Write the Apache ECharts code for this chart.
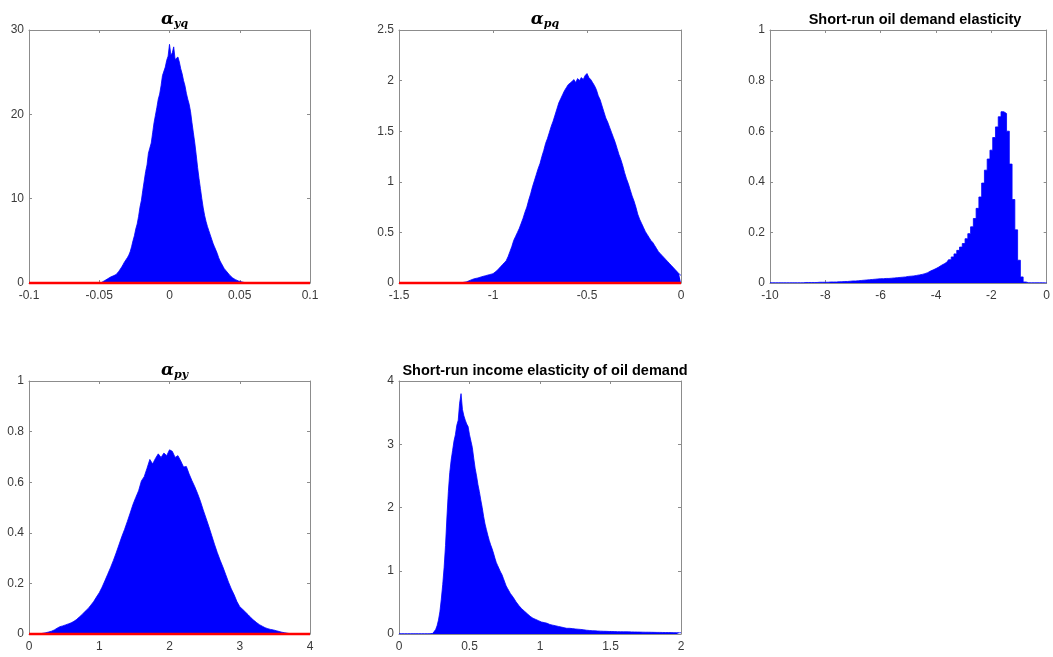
<!DOCTYPE html>
<html>
<head>
<meta charset="utf-8">
<script src="https://cdn.jsdelivr.net/npm/echarts@6/dist/echarts.min.js"></script>
<style>html,body{margin:0;padding:0;background:#fff;}#c{width:1053px;height:657px;}</style>
</head>
<body>
<div id="c"></div>
<script>
// ---- Data (density heights) ----
// Panel 1: alpha_yq, bins start -0.048, width 0.001
const ayqStart = -0.048, ayqWidth = 0.001;
const ayqDens = [0.1,0.2,0.3,0.4,0.5,0.6,0.7,0.75,0.85,0.9,1.0,1.2,1.4,1.6,1.9,2.2,2.5,2.7,3.0,3.3,3.7,4.3,5.0,5.6,6.4,7.0,7.9,9.0,9.8,11.0,12.1,13.2,14.0,15.4,16.0,16.6,17.8,19.0,19.9,20.8,21.8,22.4,23.4,24.6,24.7,25.6,26.4,26.9,28.3,27.0,27.3,28.0,26.5,26.4,26.8,26.2,25.4,24.8,24.0,23.4,22.5,21.8,21.2,20.3,19.0,17.8,16.6,15.2,13.7,12.4,11.2,10.0,8.9,8.0,7.3,6.7,6.2,5.7,5.2,4.7,4.3,3.9,3.5,3.0,2.6,2.3,2.0,1.7,1.5,1.3,1.1,0.9,0.75,0.6,0.5,0.4,0.3,0.25,0.2,0.15,0.1,0.07,0.05];
// Panel 2: alpha_pq, bins start -1.16, width 0.01
const apqStart = -1.16, apqWidth = 0.01;
const apqDens = [0.005,0.008,0.012,0.02,0.028,0.035,0.042,0.046,0.05,0.055,0.062,0.066,0.072,0.076,0.082,0.088,0.092,0.105,0.12,0.14,0.16,0.18,0.20,0.22,0.26,0.31,0.36,0.42,0.46,0.50,0.54,0.59,0.64,0.70,0.75,0.82,0.88,0.95,1.01,1.07,1.13,1.18,1.25,1.31,1.38,1.43,1.49,1.55,1.60,1.66,1.72,1.78,1.82,1.86,1.90,1.93,1.96,1.95,1.99,2.01,1.98,2.02,2.00,2.03,2.01,2.05,2.07,2.03,2.01,1.98,1.95,1.91,1.85,1.81,1.75,1.69,1.63,1.59,1.54,1.49,1.44,1.39,1.33,1.27,1.22,1.16,1.09,1.03,0.98,0.92,0.86,0.81,0.75,0.68,0.63,0.59,0.55,0.51,0.48,0.45,0.42,0.40,0.37,0.34,0.31,0.29,0.27,0.25,0.23,0.21,0.19,0.17,0.155,0.13,0.11,0.09,0.075];
// Panel 3: short-run oil demand elasticity, bins start -10, width 0.1
const srdStart = -10, srdWidth = 0.1;
const srdDens = [0.001,0.001,0.001,0.001,0.001,0.001,0.001,0.001,0.001,0.001,0.001,
  0.001,0.001,0.002,0.002,0.002,0.002,0.002,0.003,0.003,0.003,
  0.003,0.004,0.004,0.004,0.005,0.005,0.006,0.006,0.007,0.008,
  0.008,0.009,0.010,0.011,0.012,0.013,0.014,0.015,0.016,0.017,
  0.017,0.018,0.018,0.019,0.020,0.021,0.022,0.023,0.024,0.026,
  0.027,0.028,0.030,0.032,0.034,0.037,0.041,0.047,0.052,0.057,
  0.063,0.070,0.076,0.083,0.092,0.103,0.115,0.129,0.142,0.156,
  0.175,0.195,0.222,0.255,0.295,0.340,0.395,0.446,0.490,0.525,
  0.575,0.617,0.657,0.677,0.670,0.600,0.470,0.330,0.210,0.090,
  0.024,0.004,0.001,0.001,0.001,0.001,0.001,0.001,0.001,0.001];
// Panel 4: alpha_py, bins start 0.16, width 0.04
const apyStart = 0.16, apyWidth = 0.04;
const apyDens = [0.001,0.003,0.005,0.008,0.011,0.016,0.023,0.029,0.032,0.036,0.040,0.044,0.050,0.058,0.068,0.078,0.090,0.100,0.114,0.128,0.146,0.163,
  0.185,0.210,0.236,0.262,0.290,0.320,0.352,0.384,0.413,0.445,0.478,0.512,0.540,0.566,0.605,0.622,0.655,0.690,0.672,0.694,0.712,0.698,0.715,0.705,0.728,
  0.722,0.698,0.705,0.684,0.660,0.662,0.632,0.606,0.582,0.555,0.525,0.490,0.458,0.425,0.390,0.355,0.322,0.292,0.265,0.235,0.205,0.178,0.155,0.128,0.108,
  0.098,0.087,0.076,0.064,0.054,0.045,0.037,0.031,0.025,0.021,0.018,0.016,0.013,0.010,0.007,0.005,0.003,0.001];
// Panel 5: short-run income elasticity, bins start 0, width 0.01
const sriStart = 0, sriWidth = 0.01;
const sriDens = [0.005,0.005,0.005,0.005,0.005,0.005,0.005,0.005,0.005,0.005,0.005,0.005,0.005,0.005,0.005,0.005,0.005,0.005,0.005,0.005,0.005,0.005,0.005,0.006,
  0.01,0.03,0.07,0.13,0.22,0.35,0.55,0.78,1.05,1.40,1.85,2.25,2.55,2.75,2.90,3.05,3.15,3.30,3.38,3.65,3.80,3.55,3.45,3.38,3.32,3.28,3.15,3.05,2.95,2.78,2.62,2.50,2.36,2.25,2.12,2.00,1.86,1.74,1.65,1.56,1.48,1.41,1.35,1.28,1.20,1.13,1.08,1.03,0.98,0.94,0.88,0.82,0.76,0.72,0.68,0.64,0.61,0.58,0.55,0.51,0.48,0.45,0.42,0.40,0.38,0.36,0.33,0.32,0.30,0.28,0.27,0.25,0.24,0.23,0.22,0.21,0.20,
  0.19,0.19,0.18,0.17,0.17,0.16,0.15,0.15,0.14,0.14,
  0.13,0.13,0.12,0.12,0.11,0.11,0.10,0.10,0.09,0.09,
  0.09,0.085,0.085,0.08,0.08,0.078,0.076,0.074,0.072,0.07,
  0.066,0.063,0.06,0.058,0.056,0.054,0.052,0.05,0.05,0.048,
  0.047,0.046,0.045,0.044,0.043,0.042,0.042,0.041,0.04,0.04,
  0.04,0.039,0.038,0.038,0.037,0.037,0.036,0.036,0.035,0.035,
  0.035,0.034,0.034,0.033,0.033,0.032,0.032,0.031,0.031,0.03,
  0.03,0.03,0.029,0.029,0.028,0.028,0.028,0.027,0.027,0.026,
  0.026,0.026,0.025,0.025,0.025,0.024,0.024,0.024,0.023,0.023,
  0.023,0.022,0.022,0.022,0.021,0.021,0.021,0.02,0.02,0.02];
// Prior lines (red, at zero)
const ayqPrior = [[-0.1, 0], [0.1, 0]];
const apqPrior = [[-1.5, 0], [0, 0]];
const apyPrior = [[0, 0], [4, 0]];

// Axis ranges / ticks
const xRanges = [[-0.1, 0.1, 0.05], [-1.5, 0, 0.5], [-10, 0, 2], [0, 4, 1], [0, 2, 0.5]];
const yRanges = [[0, 30, 10], [0, 2.5, 0.5], [0, 1, 0.2], [0, 1, 0.2], [0, 4, 1]];
const titles = ['{a|α}{s|yq}', '{a|α}{s|pq}', 'Short-run oil demand elasticity', '{a|α}{s|py}', 'Short-run income elasticity of oil demand'];

const hists = [[ayqStart, ayqWidth, ayqDens], [apqStart, apqWidth, apqDens], [srdStart, srdWidth, srdDens], [apyStart, apyWidth, apyDens], [sriStart, sriWidth, sriDens]];
const priors = [ayqPrior, apqPrior, null, apyPrior, null];
const stepped = [false, false, true, false, false];

// ---- Layout ----
const grids = [
  {left: 29, top: 30, width: 281, height: 253},
  {left: 399, top: 30, width: 282, height: 253},
  {left: 770, top: 30, width: 280, height: 253},
  {left: 29, top: 381, width: 281, height: 253},
  {left: 399, top: 381, width: 282, height: 253}
];

const boxColor = '#8c8c8c';
const labelColor = '#3a3a3a';
const fmt = v => String(+(+v).toFixed(4));

const xAxes = [], yAxes = [], series = [], titleArr = [];
grids.forEach((g, i) => {
  const [xmin, xmax, xint] = xRanges[i];
  const [ymin, ymax, yint] = yRanges[i];
  const common = {
    axisLine: {show: true, onZero: false, lineStyle: {color: boxColor, width: 1}},
    axisTick: {show: true, inside: true, length: 3, lineStyle: {color: boxColor}},
    splitLine: {show: false}
  };
  xAxes.push(Object.assign({type: 'value', gridIndex: i, position: 'bottom', min: xmin, max: xmax, interval: xint,
    axisLabel: {show: true, color: labelColor, fontFamily: 'Liberation Sans, Arial, sans-serif', fontSize: 12, margin: 7, formatter: fmt, showMinLabel: true, showMaxLabel: true}}, common));
  xAxes.push(Object.assign({type: 'value', gridIndex: i, position: 'top', min: xmin, max: xmax, interval: xint,
    axisLabel: {show: false}}, common));
  yAxes.push(Object.assign({type: 'value', gridIndex: i, position: 'left', min: ymin, max: ymax, interval: yint,
    axisLabel: {show: true, color: labelColor, fontFamily: 'Liberation Sans, Arial, sans-serif', fontSize: 12, margin: 5, formatter: fmt}}, common));
  yAxes.push(Object.assign({type: 'value', gridIndex: i, position: 'right', min: ymin, max: ymax, interval: yint,
    axisLabel: {show: false}}, common));

  const [st, w, dens] = hists[i];
  const data = dens.map((d, k) => [st + k * w, d]);
  series.push({
    type: 'line', xAxisIndex: 2 * i, yAxisIndex: 2 * i, data: data, step: stepped[i] ? 'middle' : false,
    symbol: 'none', silent: true, clip: true,
    lineStyle: {color: '#0000ff', width: 0.8},
    areaStyle: {color: '#0000ff', opacity: 1, origin: 'start'},
    z: 2
  });
  if (priors[i]) {
    series.push({
      type: 'line', xAxisIndex: 2 * i, yAxisIndex: 2 * i, data: priors[i],
      symbol: 'none', silent: true, clip: false,
      lineStyle: {color: '#ff0000', width: 2.5}, z: 5
    });
  }
  const isGreek = titles[i].indexOf('{a|') === 0;
  titleArr.push({
    text: titles[i],
    left: g.left + g.width / 2,
    top: isGreek ? g.top - 24 : g.top - 23,
    textAlign: 'center',
    textStyle: isGreek ? {
      rich: {
        a: {fontFamily: 'DejaVu Serif, serif', fontStyle: 'italic', fontWeight: 'bold', fontSize: 17, color: '#000', verticalAlign: 'top', lineHeight: 18},
        s: {fontFamily: 'DejaVu Serif, serif', fontStyle: 'italic', fontWeight: 'bold', fontSize: 11, color: '#000', padding: [9, 0, 0, 0], lineHeight: 18}
      }
    } : {fontFamily: 'Liberation Sans, Arial, sans-serif', fontWeight: 'bold', fontSize: 14.5, color: '#000'}
  });
});

const chart = echarts.init(document.getElementById('c'), null, {renderer: 'canvas'});
chart.setOption({
  animation: false,
  backgroundColor: '#fff',
  title: titleArr,
  grid: grids.map(g => Object.assign({containLabel: false}, g)),
  xAxis: xAxes,
  yAxis: yAxes,
  series: series
});
</script>
</body>
</html>
